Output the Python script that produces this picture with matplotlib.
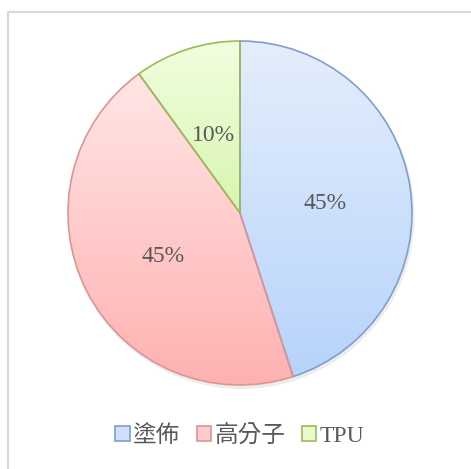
import numpy as np
import matplotlib
matplotlib.use("Agg")
import matplotlib.pyplot as plt
from matplotlib.patches import Patch, Circle
from matplotlib.colors import LinearSegmentedColormap

# dados do gráfico
categorias = ["塗佈", "高分子", "TPU"]
valores = [45, 45, 10]
cor_topo = ["#e4eefc", "#ffe6e6", "#f1ffdf"]
cor_base = ["#b7d3fb", "#ffb0b0", "#d8f5b0"]
cor_borda = ["#7f9fcf", "#d99694", "#9bbb59"]
cor_legenda = ["#cfe0fa", "#ffcaca", "#e6fbc8"]

plt.rcParams["font.family"] = ["Liberation Serif", "Noto Sans CJK TC"]
texto_cor = "#595959"

W, H = 471, 469
fig = plt.figure(figsize=(W / 100, H / 100), dpi=100)
ax = fig.add_axes([0, 0, 1, 1])
ax.set_xlim(0, W)
ax.set_ylim(0, H)
ax.set_aspect("equal")
ax.axis("off")

# moldura cinza (só topo e esquerda aparecem)
ax.plot([8, 8, W + 5], [-5, H - 12, H - 12], color="#d9d9d9", lw=1.6, zorder=0)

cx, cy, r = 240, H - 213, 172

# sombra leve
ax.add_patch(Circle((cx + 1.5, cy - 3), r + 1, color="#000000", alpha=0.07, zorder=1, lw=0))

wedges, textos, autotextos = ax.pie(
    valores, center=(cx, cy), radius=r, startangle=90, counterclock=False,
    autopct="%1.0f%%", pctdistance=0.5,
    wedgeprops=dict(linewidth=1.2),
    textprops=dict(fontsize=17, color=texto_cor),
)

for w, c1, c2, cb in zip(wedges, cor_topo, cor_base, cor_borda):
    w.set_facecolor("none")
    w.set_edgecolor(cb)
    w.set_zorder(3)
    verts = w.get_transform().transform_path(w.get_path())
    xs, ys = ax.transData.inverted().transform(verts.vertices).T
    cmap = LinearSegmentedColormap.from_list("g", [c2, c1])
    grad = np.linspace(0, 1, 256).reshape(-1, 1)
    im = ax.imshow(grad, cmap=cmap, extent=[xs.min(), xs.max(), ys.min(), ys.max()],
                   origin="lower", aspect="auto", zorder=2)
    im.set_clip_path(w)

for t in autotextos:
    t.set_zorder(4)
    x, y = t.get_position()
    t.set_position((x, y - 4))

ax.set_xlim(0, W)
ax.set_ylim(0, H)

handles = [Patch(facecolor=f, edgecolor=e, linewidth=1.2) for f, e in zip(cor_legenda, cor_borda)]
fig.legend(handles, categorias, loc="center", bbox_to_anchor=(240 / W, 1 - 436 / H),
           ncol=3, frameon=False, fontsize=17, handlelength=0.6, handleheight=0.6,
           handletextpad=0.15, columnspacing=0.7, labelcolor=texto_cor)

fig.savefig("out.png", dpi=100)
